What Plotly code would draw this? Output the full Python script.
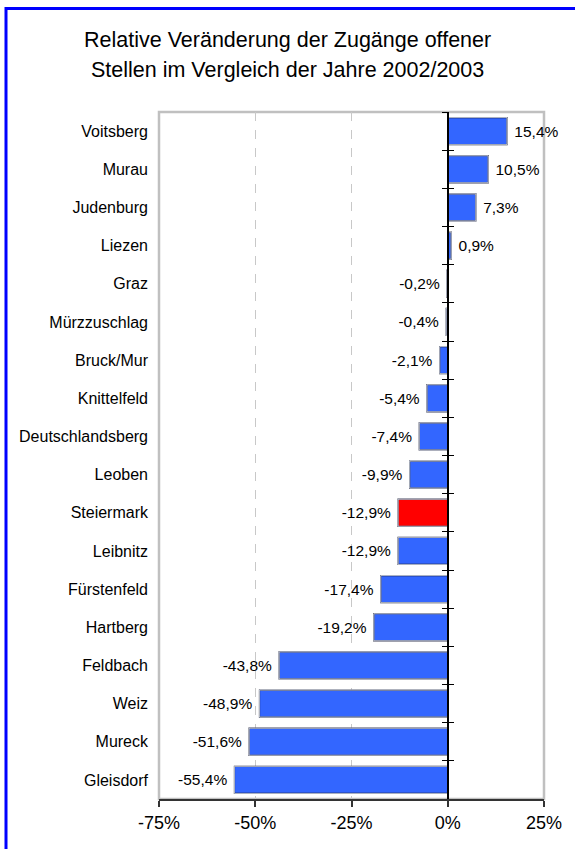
import plotly.graph_objects as go

categories = ["Voitsberg", "Murau", "Judenburg", "Liezen", "Graz", "Mürzzuschlag",
              "Bruck/Mur", "Knittelfeld", "Deutschlandsberg", "Leoben", "Steiermark",
              "Leibnitz", "Fürstenfeld", "Hartberg", "Feldbach", "Weiz", "Mureck", "Gleisdorf"]
values = [15.4, 10.5, 7.3, 0.9, -0.2, -0.4, -2.1, -5.4, -7.4, -9.9, -12.9,
          -12.9, -17.4, -19.2, -43.8, -48.9, -51.6, -55.4]
highlight = "Steiermark"
x_ticks = [-75, -50, -25, 0, 25]
title_lines = ["Relative Veränderung der Zugänge offener",
               "Stellen im Vergleich der Jahre 2002/2003"]

BLUE = "#3366FF"
RED = "#FF0000"
colors = [RED if c == highlight else BLUE for c in categories]


def fmt(v):
    s = f"{v:.1f}".replace(".", ",") + "%"
    return (" " + s) if v >= 0 else (s + " ")


labels = [fmt(v) for v in values]
n = len(categories)
yr = [n - 0.5, -0.5]
font = "Liberation Sans, Arial, sans-serif"

W, H = 575, 849
ML, MR, MT, MB = 159, 31, 112, 50
PW, PH = W - ML - MR, H - MT - MB


def px_x(p):
    return (p - ML) / PW


def px_y(p):
    return (H - MB - p) / PH


fig = go.Figure()
fig.add_trace(go.Bar(
    x=values, y=categories, orientation="h",
    marker=dict(color=colors, line=dict(color="#10102a", width=1.2)),
    text=labels, textposition="outside", cliponaxis=False,
    textfont=dict(size=15.5, color="black", family=font),
    hoverinfo="skip", showlegend=False,
))
for ax in ["y2", "y3"]:
    fig.add_trace(go.Bar(
        x=values, y=categories, orientation="h", yaxis=ax,
        marker=dict(color="rgba(0,0,0,0)"), hoverinfo="skip", showlegend=False,
    ))

annotations = []
for i, line in enumerate(title_lines):
    annotations.append(dict(
        text=line, xref="paper", yref="paper",
        x=px_x(287.5), y=px_y(40 + 30 * i), xanchor="center", yanchor="middle",
        showarrow=False, font=dict(size=21.5, family=font, color="black"),
    ))

fig.update_layout(
    width=W, height=H,
    margin=dict(l=ML, r=MR, t=MT, b=MB),
    paper_bgcolor="white", plot_bgcolor="white",
    separators=",.",
    bargap=0.29,
    font=dict(family=font, color="black"),
    annotations=annotations,
    xaxis=dict(
        range=[-75, 25], tickvals=x_ticks, ticktext=[f"{t}%" for t in x_ticks],
        showgrid=True, gridcolor="#C8C8C8", griddash="dash", gridwidth=1,
        zeroline=False, showline=True, linecolor="#333333", linewidth=2,
        ticks="outside", ticklen=6, tickcolor="#333333", tickwidth=1.5,
        tickfont=dict(size=18, family=font, color="black"),
        fixedrange=True,
    ),
    yaxis=dict(
        categoryorder="array", categoryarray=categories, range=yr,
        showline=False, showgrid=False, zeroline=False, ticks="",
        ticklabelstandoff=10,
        tickfont=dict(size=16, family=font, color="black"),
    ),
    yaxis2=dict(
        overlaying="y", anchor="free", position=0.75,
        categoryorder="array", categoryarray=categories, range=yr,
        showline=True, linecolor="black", linewidth=1.5,
        ticks="outside", tickson="boundaries", ticklen=5, tickcolor="black", tickwidth=1,
        showticklabels=False, showgrid=False, zeroline=False,
    ),
    yaxis3=dict(
        overlaying="y", anchor="free", position=0.75,
        categoryorder="array", categoryarray=categories, range=yr,
        showline=False,
        ticks="inside", tickson="boundaries", ticklen=5, tickcolor="black", tickwidth=1,
        showticklabels=False, showgrid=False, zeroline=False,
    ),
    shapes=[
        dict(type="rect", xref="paper", yref="paper", x0=0, y0=0, x1=1, y1=1,
             line=dict(color="#C0C0C0", width=2.5), layer="below"),
        dict(type="rect", xref="paper", yref="paper",
             x0=px_x(6), x1=1.3, y0=-0.3, y1=px_y(8.5),
             line=dict(color="#0000FF", width=3), layer="above"),
    ],
)

fig.write_html("out.html", config={"displayModeBar": False},
               post_script="document.body.style.margin='0';")
